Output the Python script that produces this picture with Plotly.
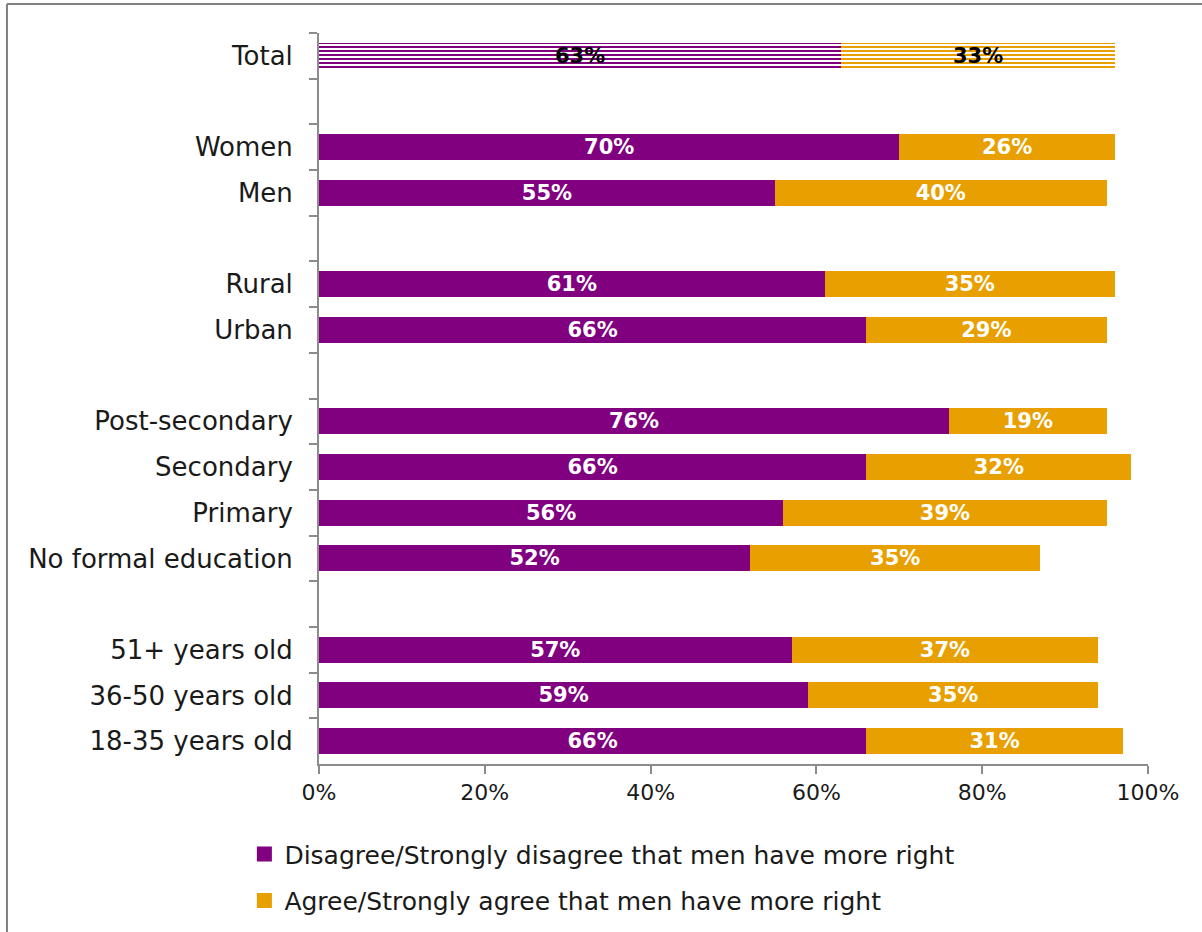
import plotly.graph_objects as go

# Rows from top to bottom; blank strings are spacer rows between groups
categories = ["Total", " ", "Women", "Men", "  ", "Rural", "Urban", "   ",
              "Post-secondary", "Secondary", "Primary", "No formal education", "    ",
              "51+ years old", "36-50 years old", "18-35 years old"]
disagree = [63, None, 70, 55, None, 61, 66, None, 76, 66, 56, 52, None, 57, 59, 66]
agree = [33, None, 26, 40, None, 35, 29, None, 19, 32, 39, 35, None, 37, 35, 31]

series_names = ["Disagree/Strongly disagree that men have more right",
                "Agree/Strongly agree that men have more right"]
x_ticks = [0, 20, 40, 60, 80, 100]
x_tick_labels = ["0%", "20%", "40%", "60%", "80%", "100%"]

PURPLE = "#800080"
ORANGE = "#E8A000"
FONT = "DejaVu Sans"
AXIS_GREY = "#8c8c8c"
TEXT = "#1a1a1a"


def bar_trace(values, name, color):
    # The Total row is drawn with a striped fill and black labels
    is_total = [c == "Total" for c in categories]
    shapes = ["-" if t else "" for t in is_total]
    label_colors = ["black" if t else "white" for t in is_total]
    texts = [f"{v}%" if v is not None else "" for v in values]
    return go.Bar(
        y=categories, x=values, name=name, orientation="h", showlegend=False,
        marker=dict(color=color, line=dict(width=0),
                    pattern=dict(shape=shapes, fgcolor=color, bgcolor="white",
                                 size=4, solidity=0.5, fillmode="replace")),
        text=texts, textposition="inside", insidetextanchor="middle",
        constraintext="none",
        textfont=dict(family=FONT, size=21, color=label_colors, weight="bold"),
        hoverinfo="skip",
    )


def legend_entry(name, color, group):
    # Solid square swatch for the legend
    return go.Scatter(y=[None], x=[None], name=name, mode="markers",
                      marker=dict(color=color, symbol="square", size=15),
                      legendgroup=group, showlegend=True, hoverinfo="skip")


fig = go.Figure()
fig.add_trace(bar_trace(disagree, series_names[0], PURPLE))
fig.add_trace(bar_trace(agree, series_names[1], ORANGE))
fig.add_trace(legend_entry(series_names[0], PURPLE, "a"))
fig.add_trace(legend_entry(series_names[1], ORANGE, "b"))

fig.update_layout(
    barmode="stack", bargap=0.43,
    width=1202, height=932,
    margin=dict(l=319, r=54, t=33, b=168, autoexpand=False),
    paper_bgcolor="white", plot_bgcolor="white",
    font=dict(family=FONT, color=TEXT, size=25),
    showlegend=True,
    legend=dict(orientation="v", x=-0.09, y=-0.092, xanchor="left", yanchor="top",
                font=dict(size=25, color=TEXT), tracegroupgap=11,
                itemsizing="trace", itemwidth=30, traceorder="grouped"),
    uniformtext=dict(mode=False),
)

fig.update_xaxes(
    range=[0, 100], tickvals=x_ticks, ticktext=x_tick_labels,
    showgrid=False, zeroline=False,
    showline=True, linecolor=AXIS_GREY, linewidth=2,
    ticks="outside", ticklen=8, tickwidth=2, tickcolor=AXIS_GREY,
    tickfont=dict(size=22, color=TEXT), fixedrange=True,
)
fig.update_yaxes(
    type="category", categoryorder="array", categoryarray=categories,
    autorange="reversed", tickson="boundaries",
    showgrid=False, zeroline=False,
    showline=True, linecolor=AXIS_GREY, linewidth=2,
    ticks="outside", ticklen=8, tickwidth=2, tickcolor=AXIS_GREY,
    ticklabelstandoff=19,
    tickfont=dict(size=26, color=TEXT), fixedrange=True,
)

# Frame lines along the left and top edges of the chart area
fig.add_shape(type="line", xref="paper", yref="paper",
              x0=-0.3764, x1=-0.3764, y0=-0.3, y1=1.0397,
              line=dict(color="#808080", width=2))
fig.add_shape(type="line", xref="paper", yref="paper",
              x0=-0.3764, x1=1.1, y0=1.0397, y1=1.0397,
              line=dict(color="#808080", width=2))

fig.write_html("out.html")
